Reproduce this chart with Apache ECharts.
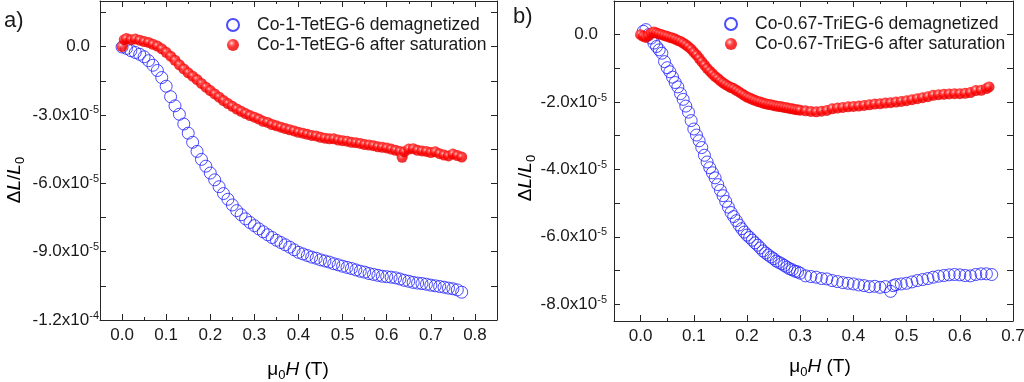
<!DOCTYPE html>
<html><head><meta charset="utf-8">
<script src="https://cdn.jsdelivr.net/npm/echarts@6/dist/echarts.min.js"></script>
<style>html,body{margin:0;padding:0;background:#fff}#c{width:1024px;height:382px}</style>
</head><body><div id="c"></div><script>
// ΔL/L0 values are in units of 1e-5; field μ0H in tesla
const NAMES_A = ['Co-1-TetEG-6 demagnetized', 'Co-1-TetEG-6 after saturation'];
const NAMES_B = ['Co-0.67-TriEG-6 demagnetized', 'Co-0.67-TriEG-6 after saturation'];

const a_demag = [[0.00,-0.02],[0.01,-0.08],[0.02,-0.18],[0.03,-0.26],[0.04,-0.34],[0.05,-0.45],[0.06,-0.62],[0.07,-0.82],[0.08,-1.05],[0.09,-1.36],
[0.10,-1.74],[0.11,-2.2],[0.12,-2.6],[0.13,-2.97],[0.14,-3.4],[0.15,-3.8],[0.16,-4.2],[0.17,-4.6],[0.18,-4.95],[0.19,-5.25],
[0.20,-5.55],[0.21,-5.85],[0.22,-6.15],[0.23,-6.45],[0.24,-6.7],[0.25,-6.95],[0.26,-7.2],[0.27,-7.38],[0.28,-7.56],[0.29,-7.72],
[0.30,-7.86],[0.31,-8.0],[0.32,-8.13],[0.33,-8.26],[0.34,-8.38],[0.35,-8.5],[0.36,-8.6],[0.37,-8.7],[0.38,-8.8],[0.39,-8.92],
[0.40,-9.03],[0.41,-9.1],[0.42,-9.17],[0.43,-9.24],[0.44,-9.29],[0.45,-9.36],[0.46,-9.41],[0.47,-9.46],[0.48,-9.53],[0.49,-9.58],
[0.50,-9.64],[0.51,-9.69],[0.52,-9.74],[0.53,-9.8],[0.54,-9.86],[0.55,-9.9],[0.56,-9.96],[0.57,-10.0],[0.58,-10.04],[0.59,-10.08],
[0.60,-10.1],[0.61,-10.12],[0.62,-10.15],[0.63,-10.2],[0.64,-10.26],[0.65,-10.3],[0.66,-10.35],[0.67,-10.38],[0.68,-10.4],[0.69,-10.43],
[0.70,-10.47],[0.71,-10.5],[0.72,-10.53],[0.73,-10.56],[0.74,-10.6],[0.75,-10.63],[0.76,-10.68],[0.77,-10.78]];

const a_sat = [[0.00,0.0],[0.005,0.3],[0.01,0.35],[0.02,0.3],[0.03,0.33],[0.04,0.28],[0.05,0.22],[0.06,0.18],[0.07,0.1],[0.08,0.02],
[0.09,-0.1],[0.10,-0.25],[0.11,-0.42],[0.12,-0.6],[0.13,-0.8],[0.14,-0.98],[0.15,-1.15],[0.16,-1.3],[0.17,-1.45],[0.18,-1.62],
[0.19,-1.78],[0.20,-1.93],[0.21,-2.08],[0.22,-2.22],[0.23,-2.37],[0.24,-2.5],[0.25,-2.62],[0.26,-2.74],[0.27,-2.84],[0.28,-2.94],
[0.29,-3.03],[0.30,-3.1],[0.31,-3.18],[0.32,-3.28],[0.33,-3.33],[0.34,-3.42],[0.35,-3.48],[0.36,-3.54],[0.37,-3.6],[0.38,-3.65],
[0.39,-3.7],[0.40,-3.76],[0.41,-3.8],[0.42,-3.85],[0.43,-3.9],[0.44,-3.92],[0.45,-3.98],[0.46,-4.02],[0.47,-4.05],[0.48,-4.05],
[0.49,-4.1],[0.50,-4.13],[0.51,-4.15],[0.52,-4.2],[0.53,-4.22],[0.54,-4.25],[0.55,-4.3],[0.56,-4.32],[0.57,-4.35],[0.58,-4.4],
[0.59,-4.42],[0.60,-4.45],[0.61,-4.5],[0.62,-4.55],[0.63,-4.6],[0.635,-4.86],[0.64,-4.62],[0.65,-4.5],[0.66,-4.48],[0.67,-4.55],
[0.68,-4.58],[0.69,-4.6],[0.70,-4.65],[0.71,-4.62],[0.72,-4.7],[0.73,-4.76],[0.74,-4.8],[0.75,-4.72],[0.76,-4.78],[0.77,-4.85]];

const b_demag = [[0.005,0.1],[0.01,0.15],[0.015,0.0],[0.02,-0.1],[0.025,-0.25],[0.03,-0.35],[0.035,-0.45],[0.04,-0.55],[0.045,-0.8],[0.05,-0.98],
[0.055,-1.1],[0.06,-1.26],[0.065,-1.42],[0.07,-1.55],[0.075,-1.75],[0.08,-1.92],[0.085,-2.12],[0.09,-2.3],[0.095,-2.55],[0.10,-2.8],
[0.105,-2.98],[0.11,-3.15],[0.115,-3.35],[0.12,-3.58],[0.125,-3.78],[0.13,-3.95],[0.135,-4.1],[0.14,-4.25],[0.145,-4.45],[0.15,-4.62],
[0.155,-4.78],[0.16,-4.95],[0.165,-5.12],[0.17,-5.28],[0.175,-5.4],[0.18,-5.52],[0.185,-5.65],[0.19,-5.76],[0.195,-5.86],[0.20,-5.95],
[0.205,-6.02],[0.21,-6.1],[0.215,-6.18],[0.22,-6.25],[0.225,-6.33],[0.23,-6.42],[0.235,-6.48],[0.24,-6.54],[0.245,-6.6],[0.25,-6.65],
[0.255,-6.72],[0.26,-6.76],[0.265,-6.8],[0.27,-6.85],[0.275,-6.9],[0.28,-6.95],[0.285,-6.98],[0.29,-7.02],[0.295,-7.04],[0.30,-7.08],
[0.31,-7.16],[0.32,-7.18],[0.33,-7.2],[0.34,-7.24],[0.35,-7.25],[0.36,-7.3],[0.37,-7.33],[0.38,-7.36],[0.39,-7.38],[0.40,-7.4],
[0.41,-7.43],[0.42,-7.45],[0.43,-7.48],[0.44,-7.47],[0.45,-7.5],[0.46,-7.48],[0.47,-7.62],[0.475,-7.45],[0.48,-7.42],[0.49,-7.4],
[0.50,-7.38],[0.51,-7.34],[0.52,-7.3],[0.53,-7.27],[0.54,-7.24],[0.55,-7.2],[0.56,-7.17],[0.57,-7.15],[0.58,-7.13],[0.59,-7.12],
[0.60,-7.13],[0.61,-7.15],[0.62,-7.16],[0.63,-7.12],[0.64,-7.1],[0.65,-7.1],[0.66,-7.12]];

const b_sat = [[0.00,0.0],[0.005,-0.05],[0.01,-0.08],[0.015,-0.02],[0.02,0.05],[0.025,0.08],[0.03,0.05],[0.035,0.02],[0.04,0.0],[0.045,-0.03],
[0.05,-0.05],[0.055,-0.08],[0.06,-0.1],[0.065,-0.13],[0.07,-0.17],[0.075,-0.2],[0.08,-0.25],[0.085,-0.3],[0.09,-0.36],[0.095,-0.43],
[0.10,-0.52],[0.105,-0.6],[0.11,-0.7],[0.115,-0.8],[0.12,-0.9],[0.125,-1.0],[0.13,-1.08],[0.135,-1.16],[0.14,-1.24],[0.145,-1.3],
[0.15,-1.37],[0.155,-1.43],[0.16,-1.48],[0.165,-1.53],[0.17,-1.57],[0.175,-1.6],[0.18,-1.65],[0.185,-1.7],[0.19,-1.75],[0.195,-1.8],
[0.20,-1.85],[0.205,-1.88],[0.21,-1.92],[0.215,-1.95],[0.22,-1.98],[0.225,-2.0],[0.23,-2.03],[0.235,-2.05],[0.24,-2.07],[0.245,-2.08],
[0.25,-2.1],[0.255,-2.12],[0.26,-2.13],[0.265,-2.14],[0.27,-2.16],[0.275,-2.17],[0.28,-2.19],[0.285,-2.2],[0.29,-2.22],[0.295,-2.23],
[0.30,-2.24],[0.31,-2.26],[0.32,-2.28],[0.33,-2.29],[0.34,-2.27],[0.35,-2.25],[0.36,-2.2],[0.37,-2.18],[0.38,-2.16],[0.39,-2.14],
[0.40,-2.13],[0.41,-2.12],[0.42,-2.1],[0.43,-2.08],[0.44,-2.06],[0.45,-2.05],[0.46,-2.03],[0.47,-2.02],[0.48,-2.0],[0.49,-1.98],
[0.50,-1.96],[0.51,-1.93],[0.52,-1.9],[0.53,-1.87],[0.54,-1.84],[0.55,-1.8],[0.56,-1.78],[0.57,-1.77],[0.58,-1.76],[0.59,-1.75],
[0.60,-1.75],[0.61,-1.74],[0.62,-1.72],[0.63,-1.66],[0.64,-1.65],[0.65,-1.6],[0.655,-1.55]];

const xTicksA = [0,0.1,0.2,0.3,0.4,0.5,0.6,0.7,0.8];
const xMinorA = [0.05,0.15,0.25,0.35,0.45,0.55,0.65,0.75];
const yTicksA = [-12,-10.5,-9,-7.5,-6,-4.5,-3,-1.5,0,1.5];
const yLabelsA = [-12,-9,-6,-3,0];
const xTicksB = [0,0.1,0.2,0.3,0.4,0.5,0.6,0.7];
const xMinorB = [0.05,0.15,0.25,0.35,0.45,0.55,0.65];
const yTicksB = [-8,-7,-6,-5,-4,-3,-2,-1,0];
const yLabelsB = [-8,-6,-4,-2,0];

const FONT = '"Liberation Sans", Arial, Helvetica, sans-serif';
const TXT = '#1a1a1a';
const LINE = '#262626';
const BLUE = '#1e1eff';

function xAxes(g, min, max, major, minor) {
  const base = {gridIndex: g, type: 'value', min: min, max: max, splitLine: {show: false}};
  const line = {show: true, onZero: false, lineStyle: {color: LINE, width: 1}};
  return [
    Object.assign({}, base, {position: 'bottom', axisLine: line,
      axisTick: {show: true, inside: true, length: 6, customValues: major, lineStyle: {color: LINE}},
      axisLabel: {show: true, customValues: major, margin: 7, fontSize: 17, fontFamily: FONT, color: TXT,
        formatter: v => v.toFixed(1)}}),
    Object.assign({}, base, {position: 'bottom', axisLine: {show: false, onZero: false},
      axisTick: {show: true, inside: true, length: 3, customValues: minor, lineStyle: {color: LINE}},
      axisLabel: {show: false}}),
    Object.assign({}, base, {position: 'top', axisLine: line,
      axisTick: {show: true, inside: true, length: 6, customValues: major, lineStyle: {color: LINE}},
      axisLabel: {show: false}}),
    Object.assign({}, base, {position: 'top', axisLine: {show: false, onZero: false},
      axisTick: {show: true, inside: true, length: 3, customValues: minor, lineStyle: {color: LINE}},
      axisLabel: {show: false}})
  ];
}
function yFmt(v) {
  if (Math.abs(v) < 1e-9) return '{z|0.0}';
  let e = -5, m = v;
  if (Math.abs(v) >= 10) { e = -4; m = v / 10; }
  return '{m|' + m.toFixed(1) + 'x10}{s|' + e + '}';
}
const yRich = {
  m: {fontSize: 17, fontFamily: FONT, color: TXT},
  z: {fontSize: 17, fontFamily: FONT, color: TXT, padding: [0, 9, 0, 0]},
  s: {fontSize: 11, fontFamily: FONT, color: TXT, padding: [0, 0, 9, 0]}
};
function yAxes(g, min, max, ticks, labels, margin) {
  const base = {gridIndex: g, type: 'value', min: min, max: max, splitLine: {show: false},
    axisLine: {show: true, onZero: false, lineStyle: {color: LINE, width: 1}},
    axisTick: {show: true, inside: true, length: 6, customValues: ticks, lineStyle: {color: LINE}}};
  return [
    Object.assign({}, base, {position: 'left',
      axisLabel: {show: true, customValues: labels, margin: margin, formatter: yFmt, rich: yRich}}),
    Object.assign({}, base, {position: 'right', axisLabel: {show: false}})
  ];
}

const redBall = {type: 'radial', x: 0.38, y: 0.35, r: 0.62, colorStops: [
  {offset: 0, color: '#ffe6e6'}, {offset: 0.25, color: '#ff5050'}, {offset: 0.55, color: '#ff0000'}, {offset: 1, color: '#e60000'}]};

function demagSeries(name, data, xi, yi) {
  return {name: name, type: 'scatter', xAxisIndex: xi, yAxisIndex: yi, data: data, symbol: 'circle', symbolSize: 12,
    itemStyle: {color: 'rgba(255,255,255,0)', borderColor: BLUE, borderWidth: 1}, silent: true};
}
function satSeries(name, data, xi, yi) {
  return {name: name, type: 'scatter', xAxisIndex: xi, yAxisIndex: yi, data: data, symbol: 'circle', symbolSize: 11,
    itemStyle: {color: redBall, borderWidth: 0}, silent: true};
}

const subRich = {
  g: {fontSize: 19, fontFamily: FONT, color: TXT},
  i: {fontSize: 19, fontFamily: FONT, color: TXT, fontStyle: 'italic'},
  sub: {fontSize: 13, fontFamily: FONT, color: TXT, padding: [10, 0, 0, 0]}
};
function titleX(x, y) {
  return {type: 'text', x: x, y: y, silent: true, style: {text: '{g|\u03bc}{sub|0}{i|H}{g| (T)}', rich: subRich,
    align: 'center', verticalAlign: 'middle'}};
}
function titleY(x, y) {
  return {type: 'text', x: x, y: y, rotation: Math.PI / 2, silent: true,
    style: {text: '{g|\u0394}{i|L}{g|/}{i|L}{sub|0}', rich: subRich, align: 'center', verticalAlign: 'middle'}};
}
function legend(names, left, top) {
  return {data: names, orient: 'vertical', left: left, top: top, itemWidth: 12, itemHeight: 12, itemGap: 2,
    selectedMode: false, textStyle: {fontSize: 17.5, fontFamily: FONT, color: TXT, padding: [0, 0, 0, 13], lineHeight: 17}};
}

const chart = echarts.init(document.getElementById('c'), null, {renderer: 'canvas'});
chart.setOption({
  animation: false,
  backgroundColor: '#fff',
  grid: [
    {left: 100, top: 1, width: 397, height: 319, containLabel: false, outerBoundsMode: 'none'},
    {left: 614, top: 1, width: 399, height: 320, containLabel: false, outerBoundsMode: 'none'}
  ],
  xAxis: xAxes(0, -0.05, 0.85, xTicksA, xMinorA).concat(xAxes(1, -0.05, 0.7, xTicksB, xMinorB)),
  yAxis: yAxes(0, -12, 2, yTicksA, yLabelsA, 1).concat(yAxes(1, -8.5, 1, yTicksB, yLabelsB, 7)),
  legend: [legend(NAMES_A, 221, 11), legend(NAMES_B, 719, 10)],
  series: [
    demagSeries(NAMES_A[0], a_demag, 0, 0),
    satSeries(NAMES_A[1], a_sat, 0, 0),
    demagSeries(NAMES_B[0], b_demag, 4, 2),
    satSeries(NAMES_B[1], b_sat, 4, 2)
  ],
  graphic: [
    {type: 'text', x: 4, y: 21, silent: true, style: {text: 'a)', fontSize: 22, fontFamily: FONT, fill: TXT, align: 'left', verticalAlign: 'middle'}},
    {type: 'text', x: 513, y: 17, silent: true, style: {text: 'b)', fontSize: 22, fontFamily: FONT, fill: TXT, align: 'left', verticalAlign: 'middle'}},
    titleX(298, 370), titleX(820, 367),
    titleY(15, 180), titleY(526, 178)
  ]
});
</script></body></html>
